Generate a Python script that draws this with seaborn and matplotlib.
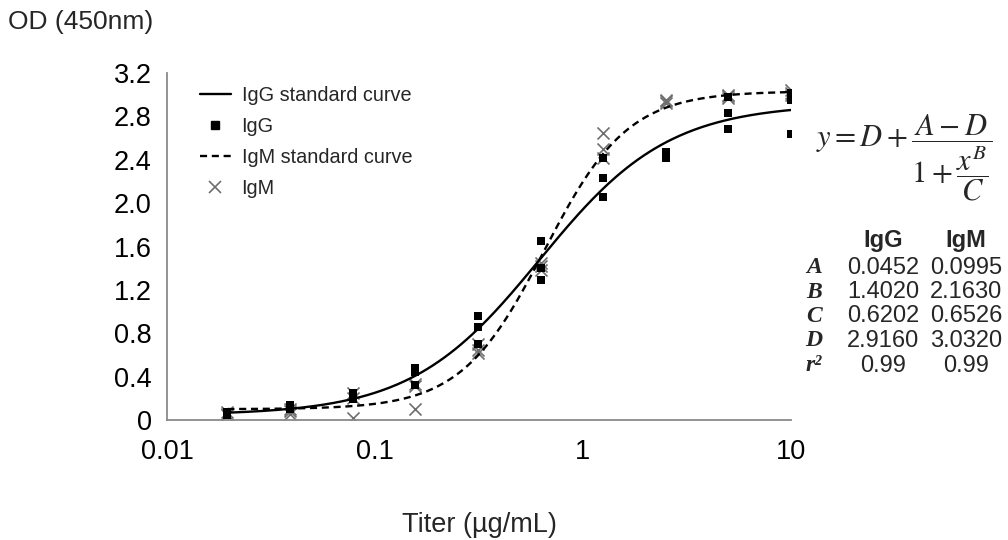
import numpy as np
import pandas as pd
import seaborn as sns
from matplotlib import pyplot as plt
from matplotlib.lines import Line2D
from matplotlib.ticker import NullLocator

# Verduennungsreihe (ug/mL)
titer = [0.0195, 0.039, 0.078, 0.156, 0.3125, 0.625, 1.25, 2.5, 5, 10]

# OD-Messwerte, je drei pro Verduennung
igg_od = [
    [0.05, 0.06, 0.07],
    [0.10, 0.12, 0.14],
    [0.19, 0.22, 0.25],
    [0.32, 0.44, 0.48],
    [0.70, 0.86, 0.96],
    [1.29, 1.40, 1.65],
    [2.06, 2.23, 2.42],
    [2.42, 2.44, 2.47],
    [2.68, 2.83, 2.98],
    [2.64, 2.95, 3.02],
]
igm_od = [
    [0.05, 0.06, 0.07],
    [0.06, 0.08, 0.10],
    [0.02, 0.20, 0.25],
    [0.10, 0.31, 0.33],
    [0.62, 0.65, 0.70],
    [1.38, 1.42, 1.45],
    [2.42, 2.50, 2.65],
    [2.92, 2.94, 2.95],
    [2.97, 2.99, 3.00],
    [3.00, 3.02, 3.04],
]

# Parameter der 4PL-Standardkurven
param_namen = ['A', 'B', 'C', 'D']
igg_param = [0.0452, 1.4020, 0.6202, 2.9160]
igm_param = [0.0995, 2.1630, 0.6526, 3.0320]
r2_werte = ['0.99', '0.99']

y_ticks = [0, 0.4, 0.8, 1.2, 1.6, 2.0, 2.4, 2.8, 3.2]
y_labels = ['0', '0.4', '0.8', '1.2', '1.6', '2.0', '2.4', '2.8', '3.2']
x_ticks = [0.01, 0.1, 1, 10]
x_labels = ['0.01', '0.1', '1', '10']


def vierpl(x, a, b, c, d):
    return d + (a - d) / (1 + (x / c) ** b)


# lange Tabelle fuer die Punkte
zeilen = []
for t, g, m in zip(titer, igg_od, igm_od):
    for v in g:
        zeilen.append((t, v, 'IgG'))
    for v in m:
        zeilen.append((t, v, 'IgM'))
punkte = pd.DataFrame(zeilen, columns=['titer', 'od', 'ig'])

xs = np.geomspace(titer[0], titer[-1], 300)
kurve_g = pd.DataFrame({'titer': xs, 'od': vierpl(xs, *igg_param)})
kurve_m = pd.DataFrame({'titer': xs, 'od': vierpl(xs, *igm_param)})

sns.set_theme(style='white')
plt.rcParams['font.family'] = ['Liberation Sans', 'DejaVu Sans']
plt.rcParams['mathtext.fontset'] = 'stix'

fig = plt.figure(figsize=(10.08, 5.4), dpi=100)
ax = fig.add_axes([0.1657, 0.2222, 0.619, 0.6426])

sns.scatterplot(data=punkte[punkte['ig'] == 'IgM'], x='titer', y='od',
                marker='x', s=75, color='#6e6e6e', linewidth=1.2, ax=ax)
sns.scatterplot(data=punkte[punkte['ig'] == 'IgG'], x='titer', y='od',
                marker='s', s=36, color='black', linewidth=0, ax=ax)
sns.lineplot(data=kurve_g, x='titer', y='od', color='black', lw=1.7, ax=ax)
sns.lineplot(data=kurve_m, x='titer', y='od', color='black', lw=1.7,
             ax=ax, linestyle=(0, (3, 2)))

ax.set_xscale('log')
ax.set_xlim(0.01, 10)
ax.set_ylim(0, 3.2)
ax.set_xticks(x_ticks)
ax.set_xticklabels(x_labels)
ax.xaxis.set_minor_locator(NullLocator())
ax.set_yticks(y_ticks)
ax.set_yticklabels(y_labels)
ax.set_xlabel('')
ax.set_ylabel('')

for s in ['top', 'right']:
    ax.spines[s].set_visible(False)
for s in ['left', 'bottom']:
    ax.spines[s].set_color('#8a8a8a')
    ax.spines[s].set_linewidth(1.3)
ax.tick_params(direction='out', length=5, width=1.2, color='#8a8a8a',
               labelsize=19.5, labelcolor='black')
ax.tick_params(axis='y', pad=6)
ax.tick_params(axis='x', pad=9)

griffe = [
    Line2D([], [], color='black', lw=1.7),
    Line2D([], [], color='black', marker='s', ms=5.5, lw=0),
    Line2D([], [], color='black', lw=1.7, linestyle=(0, (3, 2))),
    Line2D([], [], color='#6e6e6e', marker='x', ms=8, mew=1.2, lw=0),
]
namen = ['IgG standard curve', 'IgG', 'IgM standard curve', 'IgM']
fig.legend(griffe, namen, loc='upper left', bbox_to_anchor=(182 / 1008, 1 - 68 / 540),
           frameon=False, fontsize=14.3, handlelength=1.55, handletextpad=0.55,
           labelspacing=0.6)

fig.text(8 / 1008, 1 - 22 / 540, 'OD (450nm)', ha='left', va='center', fontsize=19)
fig.text(479 / 1008, 1 - 525 / 540, 'Titer (µg/mL)', ha='center', va='center',
         fontsize=19.5)

# Formel und Parametertabelle rechts
fig.text(904 / 1008, 1 - 158 / 540, r'$y = D + \dfrac{A - D}{1 + \dfrac{x^B}{C}}$',
         ha='center', va='center', fontsize=22)

col_g = 883 / 1008
col_m = 966 / 1008
col_lab = 814 / 1008
y0 = 240
dy = 24.5
fig.text(col_g, 1 - y0 / 540, 'IgG', ha='center', va='center', fontsize=17,
         fontweight='bold')
fig.text(col_m, 1 - y0 / 540, 'IgM', ha='center', va='center', fontsize=17,
         fontweight='bold')
zeilen_lab = param_namen + ['r²']
werte_g = [f'{v:.4f}' for v in igg_param] + [r2_werte[0]]
werte_m = [f'{v:.4f}' for v in igm_param] + [r2_werte[1]]
for i, (lab, vg, vm) in enumerate(zip(zeilen_lab, werte_g, werte_m)):
    yy = 1 - (y0 + dy * (i + 1) + 3) / 540
    fig.text(col_lab, yy, lab, ha='center', va='center', fontsize=17,
             family='Liberation Serif', style='italic', fontweight='bold')
    fig.text(col_g, yy, vg, ha='center', va='center', fontsize=17)
    fig.text(col_m, yy, vm, ha='center', va='center', fontsize=17)

plt.savefig('out.png', dpi=100)
